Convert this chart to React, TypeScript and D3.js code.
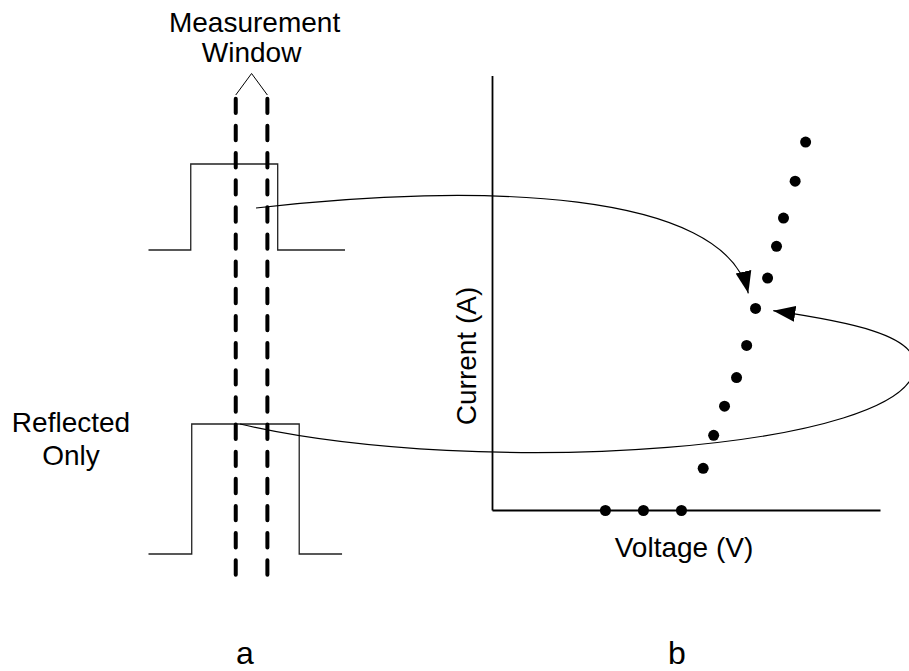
import React from "react";
import * as d3 from "d3";

// ---- Panel b: I-V data (arbitrary units) ----
const ivVoltage = [2.91, 3.89, 4.87, 5.43, 5.70, 5.98, 6.29, 6.55, 6.78, 7.09, 7.32, 7.50, 7.80, 8.07];
const ivCurrent = [0, 0, 0, 0.97, 1.73, 2.40, 3.06, 3.80, 4.65, 5.35, 6.08, 6.73, 7.58, 8.48];

// ---- Panel a: pulses (time units, amplitude 0..1) ----
const topPulseT = [0, 2.15, 2.15, 6.575, 6.575, 10];
const topPulseA = [0, 0, 1, 1, 0, 0];
const bottomPulseT = [0, 2.2, 2.2, 7.67, 7.67, 9.85];
const bottomPulseA = [0, 0, 1, 1, 0, 0];
const windowT = [4.44, 6.05];

// ---- Annotation arrows (control points in I-V data units) ----
const topArrowX = [-6.095, -0.322, 5.992, 6.593];
const topArrowY = [6.962, 7.56, 7.376, 4.999];
const bottomArrowX = [-6.508, -0.322, 10.889, 10.889, 10.889, 9.214, 7.237];
const bottomArrowY = [1.991, 0.702, 1.392, 3.349, 4.039, 4.338, 4.598];

const labels = {
  window: ["Measurement", "Window"],
  reflected: ["Reflected", "Only"],
  xAxis: "Voltage (V)",
  yAxis: "Current (A)",
  panelA: "a",
  panelB: "b",
};

const FONT = "'Liberation Sans', Arial, Helvetica, sans-serif";
const FS = 28;

export default function App() {
  const W = 909, H = 671;
  const x = d3.scaleLinear().domain([0, 10]).range([492.5, 880.5]);
  const y = d3.scaleLinear().domain([0, 10]).range([510.5, 76]);

  const t = d3.scaleLinear().domain([0, 10]).range([148.5, 345]);
  const yTop = d3.scaleLinear().domain([0, 1]).range([250, 164]);
  const yBot = d3.scaleLinear().domain([0, 1]).range([554, 424]);

  const topPath = d3.line<number>()
    .x((d) => t(d))
    .y((_, i) => yTop(topPulseA[i]))(topPulseT) as string;
  const botPath = d3.line<number>()
    .x((d) => t(d))
    .y((_, i) => yBot(bottomPulseA[i]))(bottomPulseT) as string;

  const p = d3.path();
  p.moveTo(x(topArrowX[0]), y(topArrowY[0]));
  p.bezierCurveTo(
    x(topArrowX[1]), y(topArrowY[1]),
    x(topArrowX[2]), y(topArrowY[2]),
    x(topArrowX[3]), y(topArrowY[3])
  );
  const q = d3.path();
  q.moveTo(x(bottomArrowX[0]), y(bottomArrowY[0]));
  q.bezierCurveTo(
    x(bottomArrowX[1]), y(bottomArrowY[1]),
    x(bottomArrowX[2]), y(bottomArrowY[2]),
    x(bottomArrowX[3]), y(bottomArrowY[3])
  );
  q.bezierCurveTo(
    x(bottomArrowX[4]), y(bottomArrowY[4]),
    x(bottomArrowX[5]), y(bottomArrowY[5]),
    x(bottomArrowX[6]), y(bottomArrowY[6])
  );

  const dashTop = 98.7;
  const dashBot = 574.7;
  const wx0 = t(windowT[0]);
  const wx1 = t(windowT[1]);
  const apexX = (wx0 + wx1) / 2;

  return (
    <svg
      width={W}
      height={H}
      viewBox={`0 0 ${W} ${H}`}
      style={{ position: "absolute", left: 0, top: 0, display: "block", background: "#fff" }}
    >
      <defs>
        <marker
          id="arrowHead"
          markerUnits="userSpaceOnUse"
          markerWidth={24}
          markerHeight={18}
          viewBox="0 -9 24 18"
          refX={22}
          refY={0}
          orient="auto"
        >
          <path d="M0,-8L22,0L0,8Z" fill="#000" />
        </marker>
      </defs>
      <rect width={W} height={H} fill="#fff" />

      {/* Panel a: pulses */}
      <path d={topPath} fill="none" stroke="#222" strokeWidth={1.3} />
      <path d={botPath} fill="none" stroke="#222" strokeWidth={1.3} />

      {/* Measurement window dashed lines */}
      {windowT.map((w, i) => (
        <line
          key={i}
          x1={t(w)}
          x2={t(w)}
          y1={dashTop}
          y2={dashBot}
          stroke="#000"
          strokeWidth={4}
          strokeLinecap="round"
          strokeDasharray="14.4 12.75"
        />
      ))}
      <path
        d={`M${wx0},95L${apexX},73.5L${wx1},95`}
        fill="none"
        stroke="#000"
        strokeWidth={1}
      />
      <text x={apexX + 3} y={32} textAnchor="middle" fontFamily={FONT} fontSize={FS} fill="#000">
        {labels.window[0]}
      </text>
      <text x={apexX} y={62} textAnchor="middle" fontFamily={FONT} fontSize={FS} fill="#000">
        {labels.window[1]}
      </text>
      <text x={71} y={432} textAnchor="middle" fontFamily={FONT} fontSize={FS} fill="#000">
        {labels.reflected[0]}
      </text>
      <text x={71} y={465} textAnchor="middle" fontFamily={FONT} fontSize={FS} fill="#000">
        {labels.reflected[1]}
      </text>

      {/* Panel b: axes */}
      <line x1={x(0)} x2={x(0)} y1={y(0)} y2={y(10)} stroke="#000" strokeWidth={1.8} />
      <line x1={x(0)} x2={x(10)} y1={y(0)} y2={y(0)} stroke="#000" strokeWidth={1.8} />
      <text x={684} y={557} textAnchor="middle" fontFamily={FONT} fontSize={FS} fill="#000">
        {labels.xAxis}
      </text>
      <text
        transform={`translate(476,356) rotate(-90)`}
        textAnchor="middle"
        fontFamily={FONT}
        fontSize={FS}
        fill="#000"
      >
        {labels.yAxis}
      </text>

      {/* Arrows */}
      <path d={p.toString()} fill="none" stroke="#000" strokeWidth={1.2} markerEnd="url(#arrowHead)" />
      <path d={q.toString()} fill="none" stroke="#000" strokeWidth={1.2} markerEnd="url(#arrowHead)" />

      {/* I-V points */}
      {ivVoltage.map((v, i) => (
        <circle key={i} cx={x(v)} cy={y(ivCurrent[i])} r={5.5} fill="#000" />
      ))}

      {/* Panel labels */}
      <text x={245} y={664} textAnchor="middle" fontFamily={FONT} fontSize={32} fill="#000">
        {labels.panelA}
      </text>
      <text x={677} y={664} textAnchor="middle" fontFamily={FONT} fontSize={32} fill="#000">
        {labels.panelB}
      </text>
    </svg>
  );
}
